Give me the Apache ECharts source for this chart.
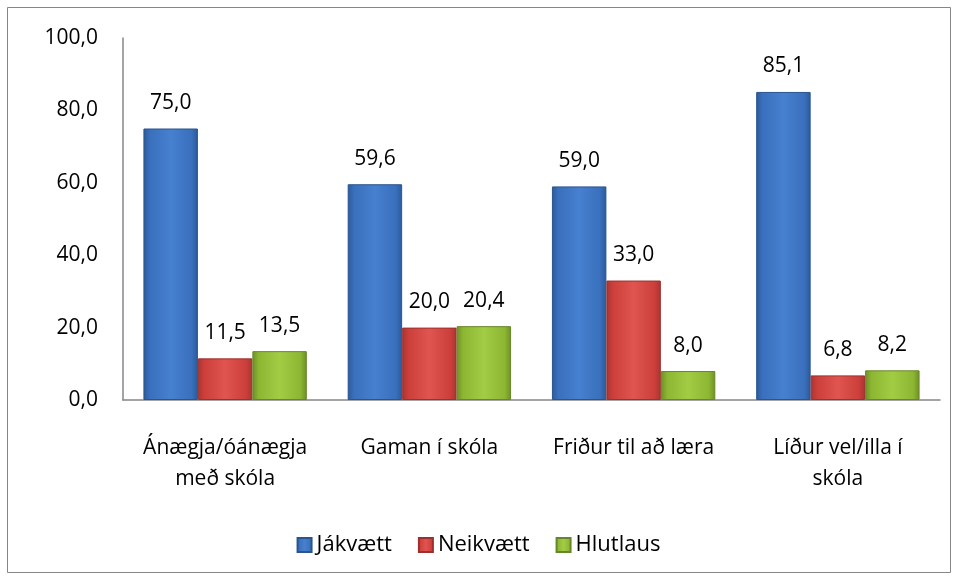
<!DOCTYPE html>
<html>
<head>
<meta charset="utf-8">
<script src="https://cdn.jsdelivr.net/npm/echarts@6/dist/echarts.min.js"></script>
<style>
  html, body { margin: 0; padding: 0; background: #fff; }
  #chart { width: 957px; height: 579px; }
</style>
</head>
<body>
<div id="chart"></div>
<script>
// flokkar og gildi
const categories = ['Ánægja/óánægja\nmeð skóla', 'Gaman í skóla', 'Friður til að læra', 'Líður vel/illa í\nskóla']
const jakvaett = [75.0, 59.6, 59.0, 85.1]
const neikvaett = [11.5, 20.0, 33.0, 6.8]
const hlutlaus = [13.5, 20.4, 8.0, 8.2]

const fmt = v => v.toFixed(1).replace('.', ',')

// Excel-like bevel gradient
const bevel = (dark, mid, light) => ({
  type: 'linear', x: 0, y: 0, x2: 1, y2: 0,
  colorStops: [
    {offset: 0, color: dark},
    {offset: 0.12, color: mid},
    {offset: 0.5, color: light},
    {offset: 0.88, color: mid},
    {offset: 1, color: dark}
  ]
})

const font = '"Open Sans", "Noto Sans", sans-serif'

const makeSeries = (name, data, color, border) => ({
  name: name,
  type: 'bar',
  data: data,
  barGap: '0%',
  barCategoryGap: '20%',
  itemStyle: {color: color, borderColor: border, borderWidth: 1},
  label: {
    show: true,
    position: 'top',
    distance: 15,
    fontSize: 21,
    fontFamily: font,
    color: '#000',
    formatter: p => fmt(p.value)
  }
})

let chart = echarts.init(document.getElementById('chart'))
let option = {
  animation: false,
  backgroundColor: '#fff',
  graphic: [{
    type: 'rect',
    shape: {x: 7.5, y: 7.5, width: 943, height: 565},
    style: {fill: 'none', stroke: '#868686', lineWidth: 1}
  }],
  grid: {left: 123, right: 17, top: 38, bottom: 179},
  legend: {
    bottom: 18,
    left: 'center',
    itemWidth: 14,
    itemHeight: 14,
    itemGap: 26,
    icon: 'rect',
    textStyle: {fontSize: 22, fontFamily: font, color: '#000', padding: [0, 0, 0, 0]},
    data: ['Jákvætt', 'Neikvætt', 'Hlutlaus']
  },
  xAxis: {
    type: 'category',
    data: categories,
    axisLine: {lineStyle: {color: '#868686', width: 1.5}},
    axisTick: {show: false},
    axisLabel: {fontSize: 21, fontFamily: font, color: '#000', margin: 33, lineHeight: 31, interval: 0}
  },
  yAxis: {
    type: 'value',
    min: 0,
    max: 100,
    interval: 20,
    splitLine: {show: false},
    axisLine: {show: true, lineStyle: {color: '#868686', width: 1.5}},
    axisTick: {show: false},
    axisLabel: {fontSize: 21, fontFamily: font, color: '#000', margin: 25, formatter: v => fmt(v)}
  },
  series: [
    makeSeries('Jákvætt', jakvaett, bevel('#2b5a99', '#3a70bd', '#4680cf'), '#29548e'),
    makeSeries('Neikvætt', neikvaett, bevel('#a83532', '#cc3f3b', '#e05550'), '#9d302d'),
    makeSeries('Hlutlaus', hlutlaus, bevel('#6e8f25', '#8db733', '#a2cc44'), '#67862a')
  ]
}
chart.setOption(option)
</script>
</body>
</html>
